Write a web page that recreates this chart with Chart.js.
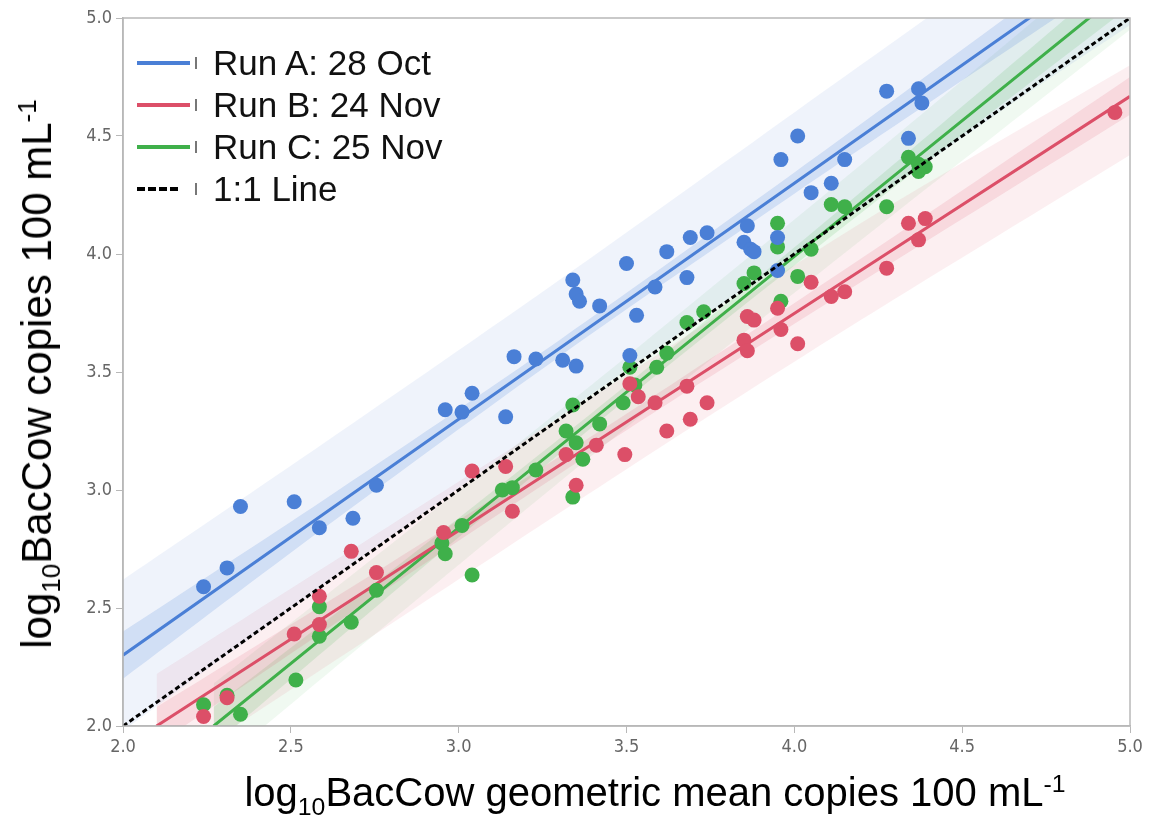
<!DOCTYPE html>
<html>
<head>
<meta charset="utf-8">
<script src="https://cdn.jsdelivr.net/npm/chart.js@4.4.1/dist/chart.umd.min.js"></script>
<style>
  body { margin: 0; background: #fff; }
  #wrap { position: relative; width: 1150px; height: 820px; }
  .axis-title {
    position: absolute;
    font-family: 'Liberation Sans', Arial, sans-serif;
    font-size: 40px;
    line-height: 1;
    color: #000;
    white-space: nowrap;
  }
  .axis-title sub, .axis-title sup { font-size: 0.62em; line-height: 0; }
  #xTitle { left: 655px; top: 772px; transform: translateX(-50%); }
  #yTitle { left: 37px; top: 374px; font-size: 42px; transform: translate(-50%, -50%) rotate(-90deg); }
  #legend {
    position: absolute;
    left: 137px;
    top: 42px;
    font-family: 'Liberation Sans', Arial, sans-serif;
    font-size: 35px;
    color: #111;
  }
  .row { display: flex; align-items: center; height: 42px; }
  .swatch { width: 53px; height: 4px; }
  .stub { width: 2px; height: 12px; background: #777; margin-left: 5px; }
  .label { margin-left: 16px; }
</style>
</head>
<body>
<div id="wrap">
  <canvas id="chart" width="1150" height="820"></canvas>
  <div id="legend"></div>
  <div class="axis-title" id="xTitle">log<sub>10</sub>BacCow geometric mean copies 100 mL<sup>-1</sup></div>
  <div class="axis-title" id="yTitle">log<sub>10</sub>BacCow copies 100 mL<sup>-1</sup></div>
</div>
<script>
// Axis ticks
const tickValues = [2.0, 2.5, 3.0, 3.5, 4.0, 4.5, 5.0];

// Series names
const runNames = ['Run A: 28 Oct', 'Run B: 24 Nov', 'Run C: 25 Nov', '1:1 Line'];

// Run A points (x = geometric mean, y = run value)
const runAX = [2.24, 2.31, 2.35, 2.51, 2.585, 2.685, 2.755, 2.96, 3.01, 3.04, 3.14, 3.165, 3.23, 3.31, 3.35,
  3.34, 3.35, 3.36, 3.42, 3.50, 3.51, 3.53, 3.585, 3.62, 3.68, 3.69, 3.74, 3.86, 3.85, 3.87, 3.88,
  3.95, 3.95, 3.96, 4.01, 4.05, 4.11, 4.15, 4.275, 4.34, 4.37, 4.38];
const runAY = [2.59, 2.67, 2.93, 2.95, 2.84, 2.88, 3.02, 3.34, 3.33, 3.41, 3.31, 3.565, 3.555, 3.55, 3.525,
  3.89, 3.83, 3.80, 3.78, 3.96, 3.57, 3.74, 3.86, 4.01, 3.90, 4.07, 4.09, 4.12, 4.05, 4.02, 4.01,
  4.07, 3.93, 4.40, 4.50, 4.26, 4.30, 4.40, 4.69, 4.49, 4.70, 4.64];

// Run B points
const runBX = [2.24, 2.31, 2.51, 2.585, 2.585, 2.68, 2.755, 2.955, 3.04, 3.14, 3.16, 3.32, 3.35, 3.41,
  3.495, 3.51, 3.535, 3.585, 3.62, 3.68, 3.69, 3.74, 3.86, 3.88, 3.85, 3.86, 3.95, 3.96, 4.01,
  4.05, 4.11, 4.15, 4.275, 4.34, 4.37, 4.39, 4.955];
const runBY = [2.04, 2.12, 2.39, 2.55, 2.43, 2.74, 2.65, 2.82, 3.08, 3.10, 2.91, 3.15, 3.02, 3.19,
  3.15, 3.45, 3.395, 3.37, 3.25, 3.44, 3.30, 3.37, 3.735, 3.72, 3.635, 3.59, 3.77, 3.68, 3.62,
  3.88, 3.82, 3.84, 3.94, 4.13, 4.06, 4.15, 4.60];

// Run C points
const runCX = [2.24, 2.31, 2.35, 2.515, 2.585, 2.585, 2.68, 2.755, 2.95, 2.96, 3.01, 3.04, 3.13, 3.16,
  3.23, 3.32, 3.35, 3.37, 3.34, 3.34, 3.42, 3.49, 3.51, 3.525, 3.59, 3.62, 3.68, 3.73, 3.85, 3.88,
  3.95, 3.95, 3.96, 4.01, 4.05, 4.11, 4.15, 4.275, 4.34, 4.37, 4.37, 4.39];
const runCY = [2.09, 2.13, 2.05, 2.195, 2.505, 2.38, 2.44, 2.575, 2.775, 2.73, 2.85, 2.64, 3.00, 3.01,
  3.085, 3.25, 3.20, 3.13, 2.97, 3.36, 3.28, 3.37, 3.52, 3.445, 3.52, 3.58, 3.71, 3.755, 3.875, 3.92,
  4.13, 4.03, 3.80, 3.905, 4.02, 4.21, 4.20, 4.20, 4.41, 4.38, 4.35, 4.37];

// Fitted lines and bands
const fitAX = [2.0, 2.6, 3.3, 4.0, 4.6, 5.0];
const fitAY = [2.30, 2.90, 3.60, 4.30, 4.90, 5.30];
const ciALo = [2.20, 2.84, 3.565, 4.255, 4.83, 5.21];
const ciAHi = [2.40, 2.96, 3.635, 4.345, 4.97, 5.39];
const piALo = [1.98, 2.60, 3.31, 4.00, 4.59, 4.97];
const piAHi = [2.62, 3.20, 3.89, 4.60, 5.21, 5.63];

const fitBX = [2.1, 2.8, 3.5, 4.2, 5.0];
const fitBY = [2.0, 2.644, 3.288, 3.932, 4.668];
const ciBLo = [1.92, 2.594, 3.253, 3.882, 4.59];
const ciBHi = [2.08, 2.694, 3.323, 3.982, 4.75];
const piBLo = [1.78, 2.434, 3.088, 3.722, 4.42];
const piBHi = [2.22, 2.854, 3.488, 4.132, 4.80];

const fitCX = [2.27, 2.9, 3.5, 4.2, 5.0];
const fitCY = [2.0, 2.725, 3.415, 4.22, 5.14];
const ciCLo = [1.92, 2.68, 3.385, 4.175, 5.05];
const ciCHi = [2.08, 2.77, 3.445, 4.265, 5.23];
const piCLo = [1.82, 2.565, 3.265, 4.06, 4.95];
const piCHi = [2.18, 2.885, 3.565, 4.38, 5.33];

const oneToOneX = [2.0, 5.0];
const oneToOneY = [2.0, 5.0];

const colors = {
  a: '#4a7fd6', b: '#dc4f68', c: '#3fb04a'
};

function pts(xs, ys) {
  return xs.map((x, i) => ({ x: x, y: ys[i] }));
}

// Two datasets: the lower edge and the upper edge filled down to it
function band(xs, lo, hi, fillColor, order) {
  const common = { showLine: true, pointRadius: 0, borderWidth: 0, borderColor: 'transparent', tension: 0.3, clip: 0, order: order };
  return [
    Object.assign({ data: pts(xs, lo), fill: false }, common),
    Object.assign({ data: pts(xs, hi), fill: '-1', backgroundColor: fillColor }, common)
  ];
}

function fitLine(xs, ys, color) {
  return { data: pts(xs, ys), showLine: true, pointRadius: 0, borderColor: color, borderWidth: 3, fill: false, clip: 0, order: 2 };
}

function scatter(xs, ys, color) {
  return { data: pts(xs, ys), showLine: false, pointRadius: 7.5, pointHoverRadius: 7.5, pointBorderWidth: 0, backgroundColor: color, borderColor: color, order: 1 };
}

const datasets = [].concat(
  band(fitAX, piALo, piAHi, 'rgba(74,127,214,0.09)', 5),
  band(fitBX, piBLo, piBHi, 'rgba(220,79,104,0.09)', 5),
  band(fitCX, piCLo, piCHi, 'rgba(63,176,74,0.08)', 5),
  band(fitAX, ciALo, ciAHi, 'rgba(74,127,214,0.18)', 4),
  band(fitBX, ciBLo, ciBHi, 'rgba(220,79,104,0.14)', 4),
  band(fitCX, ciCLo, ciCHi, 'rgba(63,176,74,0.14)', 4),
  [
    fitLine(fitAX, fitAY, colors.a),
    fitLine(fitBX, fitBY, colors.b),
    fitLine(fitCX, fitCY, colors.c),
    scatter(runAX, runAY, colors.a),
    scatter(runBX, runBY, colors.b),
    scatter(runCX, runCY, colors.c),
    { data: pts(oneToOneX, oneToOneY), showLine: true, pointRadius: 0, borderColor: '#000', borderWidth: 3, borderDash: [5, 3], fill: false, order: 0 }
  ]
);

// Gray box round the plot area
const frame = {
  id: 'frame',
  afterDraw(chart) {
    const a = chart.chartArea;
    const ctx = chart.ctx;
    ctx.save();
    ctx.strokeStyle = '#b8b8b8';
    ctx.lineWidth = 1.5;
    ctx.strokeRect(a.left, a.top, a.right - a.left, a.bottom - a.top);
    ctx.restore();
  }
};

const tickFont = { family: "'Liberation Sans Narrow', 'DejaVu Sans Condensed', 'Liberation Sans', Arial", size: 18 };

function axis(fitSize) {
  return {
    type: 'linear',
    min: 2,
    max: 5,
    afterBuildTicks: (s) => { s.ticks = tickValues.map(v => ({ value: v })); },
    afterFit: fitSize,
    ticks: {
      color: '#666',
      font: tickFont,
      padding: 4,
      callback: (v) => v.toFixed(1)
    },
    grid: { drawOnChartArea: false, drawTicks: true, tickLength: 7, color: '#b8b8b8' },
    border: { display: true, color: '#b8b8b8', width: 1.5 }
  };
}

new Chart(document.getElementById('chart'), {
  type: 'scatter',
  data: { datasets: datasets },
  options: {
    responsive: false,
    animation: false,
    events: [],
    layout: { padding: { left: 60, top: 18, right: 20, bottom: 54 } },
    plugins: {
      legend: { display: false },
      tooltip: { enabled: false }
    },
    scales: {
      x: axis((s) => { s.height = 40; }),
      y: axis((s) => { s.width = 63; })
    }
  },
  plugins: [frame]
});

// Legend drawn over the plot, top left
const legendColors = [colors.a, colors.b, colors.c, null];
const legend = document.getElementById('legend');
runNames.forEach((name, i) => {
  const row = document.createElement('div');
  row.className = 'row';
  const sw = document.createElement('span');
  sw.className = 'swatch';
  if (legendColors[i]) {
    sw.style.background = legendColors[i];
  } else {
    sw.style.width = '43px';
    sw.style.marginRight = '10px';
    sw.style.background = 'repeating-linear-gradient(90deg, #000 0 8px, transparent 8px 11px)';
  }
  const stub = document.createElement('span');
  stub.className = 'stub';
  const label = document.createElement('span');
  label.className = 'label';
  label.textContent = name;
  row.appendChild(sw);
  row.appendChild(stub);
  row.appendChild(label);
  legend.appendChild(row);
});
</script>
</body>
</html>
